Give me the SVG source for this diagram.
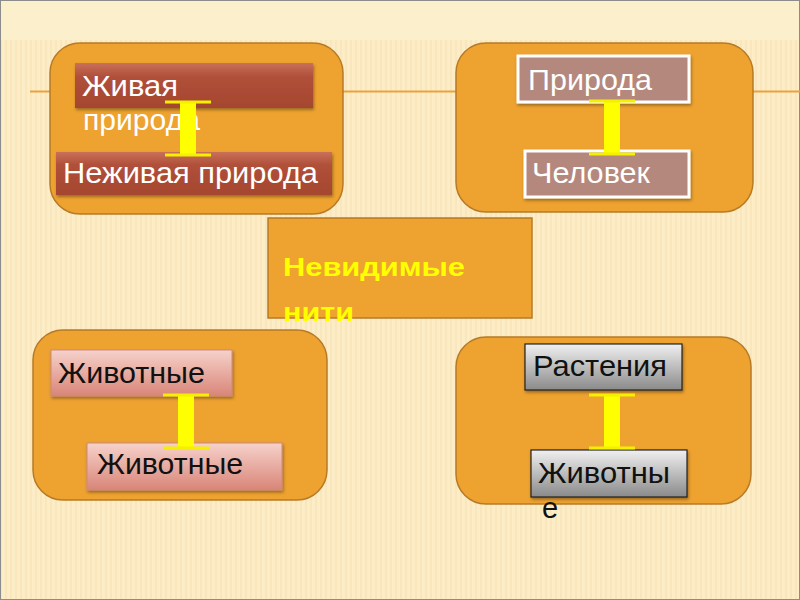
<svg xmlns="http://www.w3.org/2000/svg" width="800" height="600" viewBox="0 0 800 600">
<defs>
<pattern id="stripes" width="5" height="600" patternUnits="userSpaceOnUse">
<rect width="5" height="600" fill="#FCEDC7"/>
<rect x="0" width="2" height="600" fill="#F5E0B4" opacity="0.5"/>
</pattern>
<linearGradient id="gRed" x1="0" y1="0" x2="0" y2="1">
<stop offset="0" stop-color="#C9705A"/><stop offset="0.3" stop-color="#B0503A"/><stop offset="1" stop-color="#A5462F"/>
</linearGradient>
<linearGradient id="gPink" x1="0" y1="0" x2="0" y2="1">
<stop offset="0" stop-color="#F6D2CB"/><stop offset="1" stop-color="#D98578"/>
</linearGradient>
<linearGradient id="gGray" x1="0" y1="0" x2="0" y2="1">
<stop offset="0" stop-color="#F0F0F0"/><stop offset="1" stop-color="#8A8A8A"/>
</linearGradient>
<filter id="sh" x="-10%" y="-10%" width="120%" height="140%">
<feDropShadow dx="1" dy="2" stdDeviation="1.5" flood-color="#000" flood-opacity="0.35"/>
</filter>
<g id="ibeam">
<rect x="-8" y="0" width="16" height="54" fill="#FFFF00"/>
<rect x="-23" y="-1.5" width="46" height="3" fill="#F4F000"/>
<rect x="-23" y="51.5" width="46" height="3" fill="#F4F000"/>
</g>
</defs>
<style>
.panel{fill:#EEA22F;stroke:#B77A26;stroke-width:1.5}
.wt{font-family:"Liberation Sans",Arial,sans-serif;font-size:29px;fill:#FFFFFF}
.bt{font-family:"Liberation Sans",Arial,sans-serif;font-size:29px;fill:#111111}
.yt{font-family:"Liberation Sans",Arial,sans-serif;font-size:25px;font-weight:bold;fill:#FFFF00}
</style>
<rect width="800" height="600" fill="#FCEFCB"/>
<rect y="40" width="800" height="560" fill="url(#stripes)"/>
<rect x="0.5" y="0.5" width="799" height="599" fill="none" stroke="#8C8C8C" stroke-width="1"/>
<line x1="30" y1="91.5" x2="800" y2="91.5" stroke="#E9A33A" stroke-width="2"/>

<g id="panel-tl">
<rect class="panel" x="50" y="43" width="293" height="171" rx="30"/>
</g>
<g id="panel-tr">
<rect class="panel" x="456" y="43" width="297" height="169" rx="30"/>
</g>
<g id="panel-bl">
<rect class="panel" x="33" y="330" width="294" height="170" rx="30"/>
</g>
<g id="panel-br">
<rect class="panel" x="456" y="337" width="295" height="167" rx="30"/>
</g>

<g id="center">
<rect x="268" y="218" width="264" height="100" fill="#EEA22F" stroke="#B77A26" stroke-width="1.5"/>
<text class="yt" x="283" y="276" textLength="182" lengthAdjust="spacingAndGlyphs">Невидимые</text>
<text class="yt" x="283" y="321" textLength="71" lengthAdjust="spacingAndGlyphs">нити</text>
</g>

<g id="zhivaya">
<rect x="75" y="63" width="238" height="45" fill="url(#gRed)" filter="url(#sh)"/>
<text class="wt" x="82" y="96" textLength="96" lengthAdjust="spacingAndGlyphs">Живая</text>
<text class="wt" x="83" y="130" textLength="117" lengthAdjust="spacingAndGlyphs">природа</text>
</g>
<g id="nezhivaya">
<rect x="56" y="152" width="276" height="43" fill="url(#gRed)" filter="url(#sh)"/>
<text class="wt" x="63" y="183" textLength="255" lengthAdjust="spacingAndGlyphs">Неживая природа</text>
</g>

<g id="priroda">
<rect x="518" y="56" width="171" height="46" fill="#B4887B" stroke="#FFFFFF" stroke-width="3" filter="url(#sh)"/>
<text class="wt" x="528" y="90" textLength="124" lengthAdjust="spacingAndGlyphs">Природа</text>
</g>
<g id="chelovek">
<rect x="525" y="151" width="164" height="46" fill="#B4887B" stroke="#FFFFFF" stroke-width="3" filter="url(#sh)"/>
<text class="wt" x="532" y="183" textLength="118" lengthAdjust="spacingAndGlyphs">Человек</text>
</g>

<g id="zhivotnye1">
<rect x="51" y="350" width="181" height="46" fill="url(#gPink)" stroke="#C98A80" stroke-width="1" filter="url(#sh)"/>
<text class="bt" x="58" y="383" textLength="147" lengthAdjust="spacingAndGlyphs">Животные</text>
</g>
<g id="zhivotnye2">
<rect x="87" y="443" width="195" height="47" fill="url(#gPink)" stroke="#C98A80" stroke-width="1" filter="url(#sh)"/>
<text class="bt" x="97" y="474" textLength="146" lengthAdjust="spacingAndGlyphs">Животные</text>
</g>

<g id="rasteniya">
<rect x="525" y="344" width="157" height="46" fill="url(#gGray)" stroke="#222" stroke-width="1.2" filter="url(#sh)"/>
<text class="bt" x="533" y="376" textLength="134" lengthAdjust="spacingAndGlyphs">Растения</text>
</g>
<g id="zhivotnye3">
<rect x="531" y="450" width="156" height="47" fill="url(#gGray)" stroke="#222" stroke-width="1.2" filter="url(#sh)"/>
<text class="bt" x="538" y="483" textLength="132" lengthAdjust="spacingAndGlyphs">Животны</text>
<text class="bt" x="542" y="518">е</text>
</g>

<g id="connectors">
<use href="#ibeam" x="188" y="102"/>
<use href="#ibeam" x="612" y="101"/>
<use href="#ibeam" x="186" y="395"/>
<use href="#ibeam" x="612" y="395"/>
</g>
</svg>
